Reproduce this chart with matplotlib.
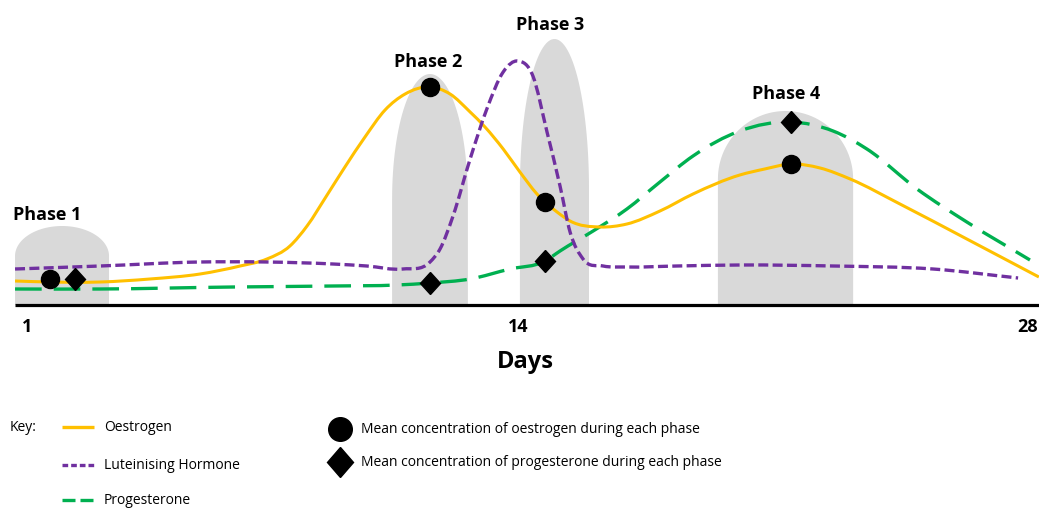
import numpy as np
import matplotlib
matplotlib.use('Agg')
import matplotlib.pyplot as plt
from matplotlib.lines import Line2D
from matplotlib.markers import MarkerStyle
from matplotlib.path import Path
from matplotlib.patches import PathPatch
from matplotlib.transforms import Affine2D, ScaledTranslation

plt.rcParams['font.family'] = ['Open Sans', 'DejaVu Sans']

# --- data (x in days, y in relative level)
oes_day = [0.62, 1.56, 2.91, 4.25, 5.60, 6.68, 7.40, 8.02, 8.48, 9.02, 9.50, 10.04,
           10.58, 11.12, 11.79, 12.33, 12.87, 13.27, 13.76, 14.21, 14.67,
           15.21, 15.56, 16.37, 17.09, 17.98, 18.87, 20.13, 20.80, 21.51, 22.29,
           23.10, 24.44, 26.24, 28.18]
oes_lvl = [24, 23, 23, 26, 31, 39, 46, 59, 79, 110, 138, 168,
           195, 211, 218, 211, 193, 178, 156, 133, 111,
           93, 84, 78, 81, 94, 111, 130, 136, 141, 137,
           126, 101, 66, 28]

lh_day = [0.62, 2.91, 5.60, 7.40, 9.18, 10.09, 11.06, 11.79, 12.06, 12.41, 12.87,
          13.32, 13.76, 14.16, 14.56, 14.94, 15.29, 15.56, 15.91, 16.45, 17.09,
          18.44, 20.13, 22.64, 25.33, 27.62]
lh_lvl = [36, 39, 43, 43, 41, 39, 36, 43, 56, 89, 146,
          196, 233, 244, 229, 173, 119, 73, 46, 39, 38,
          39, 40, 39, 36, 27]

pro_day = [0.62, 2.91, 6.49, 9.18, 10.90, 11.79, 12.87, 13.94, 14.89, 15.29, 16.18,
           17.09, 17.98, 18.87, 20.13, 21.51, 22.64, 23.55, 24.90, 26.24, 27.94]
pro_lvl = [16, 16, 18, 19, 20, 22, 26, 36, 44, 54, 74,
           96, 123, 149, 174, 183, 174, 156, 116, 83, 45]

# mean concentration per phase
phase_names = ['Phase 1', 'Phase 2', 'Phase 3', 'Phase 4']
mean_day = [1.56, 11.79, 14.89, 21.51]
mean_day_pro = [2.23, 11.79, 14.89, 21.51]
mean_oes = [26, 218, 103, 141]
mean_pro = [26, 22, 44, 183]

phase_start = [0.62, 10.77, 14.21, 19.54]
phase_end = [3.15, 12.81, 16.07, 23.18]
phase_top = [79, 231, 266, 194]

tick_days = [1, 14, 28]

# --- styling
ORANGE = '#FFC000'
PURPLE = '#7030A0'
GREEN = '#00B050'
GREY = '#D9D9D9'
arch_h = [30, 125, 150, 68]
label_pos = [(1.48, 86), (11.74, 239), (15.02, 276), (21.37, 207)]
tick_nudge = [-2, 6, -5]  # px


def smooth_path(x, y):
    # cubic bezier through the read points, tangents from neighbours
    x, y = np.asarray(x, float), np.asarray(y, float)
    m = np.gradient(y, x)
    verts = [(x[0], y[0])]
    codes = [Path.MOVETO]
    for i in range(len(x) - 1):
        dx = (x[i + 1] - x[i]) / 3
        verts += [(x[i] + dx, y[i] + dx * m[i]), (x[i + 1] - dx, y[i + 1] - dx * m[i + 1]), (x[i + 1], y[i + 1])]
        codes += [Path.CURVE4] * 3
    return Path(verts, codes)


fig = plt.figure(figsize=(10.39, 5.10), dpi=100)
ax = fig.add_axes([0, 0.4, 1, 0.6])
ax.set_xlim(8 / 37.15, 1047 / 37.15)
ax.set_ylim(0, 306)
for s in ax.spines.values():
    s.set_visible(False)
ax.set_yticks([])

# grey phase shapes: rectangle with an elliptical top
t = np.linspace(0, np.pi, 60)
for x0, x1, top, h in zip(phase_start, phase_end, phase_top, arch_h):
    xm, w = (x0 + x1) / 2, (x1 - x0) / 2
    xs = np.concatenate([[x1], xm + w * np.cos(t), [x0]])
    ys = np.concatenate([[0], top - h + h * np.sin(t), [0]])
    ax.fill(xs, ys, color=GREY, lw=0, zorder=1)

ax.add_patch(PathPatch(smooth_path(pro_day, pro_lvl), fill=False, edgecolor=GREEN, lw=2.4,
                       ls=(0, (8, 3.6)), capstyle='butt', zorder=3))
ax.add_patch(PathPatch(smooth_path(oes_day, oes_lvl), fill=False, edgecolor=ORANGE, lw=2.2,
                       capstyle='butt', joinstyle='round', zorder=4))
ax.add_patch(PathPatch(smooth_path(lh_day, lh_lvl), fill=False, edgecolor=PURPLE, lw=2.4,
                       ls=(0, (3, 1.3)), capstyle='butt', zorder=5))

dia = MarkerStyle('D', transform=Affine2D().scale(1, 1.15))
ax.plot(mean_day, mean_oes, 'o', color='black', ms=13, zorder=6, clip_on=False)
ax.plot(mean_day_pro, mean_pro, marker=dia, ls='none', color='black', ms=9.7, zorder=6, clip_on=False)

# baseline
ax.plot([0.62, 1047 / 37.15], [0, 0], color='black', lw=2.3, solid_capstyle='butt', clip_on=False, zorder=2)

for name, (lx, ly) in zip(phase_names, label_pos):
    ax.text(lx, ly, name, ha='center', va='baseline', fontsize=13, fontweight='bold')

ax.set_xticks(tick_days)
ax.set_xticklabels([str(d) for d in tick_days], fontsize=13, fontweight='bold')
ax.tick_params(axis='x', length=0, pad=9)
for lab, dx in zip(ax.get_xticklabels(), tick_nudge):
    lab.set_transform(lab.get_transform() + ScaledTranslation(dx / 100, 0, fig.dpi_scale_trans))

fig.text(525 / 1039, 1 - 368 / 510, 'Days', ha='center', va='baseline', fontsize=17, fontweight='bold')

# --- key
def fy(py):
    return 1 - py / 510

fig.text(10 / 1039, fy(428), 'Key:', va='center', fontsize=10)
key_rows = [('Oestrogen', ORANGE, None, 428), ('Luteinising Hormone', PURPLE, (1.7, 0.9), 466),
            ('Progesterone', GREEN, (3.9, 1.5), 501)]
for label, col, dsh, py in key_rows:
    ln = Line2D([62 / 1039, 94 / 1039], [fy(py), fy(py)], transform=fig.transFigure, color=col, lw=2.4,
                solid_capstyle='butt', dash_capstyle='butt')
    if dsh:
        ln.set_dashes(dsh)
    fig.add_artist(ln)
    fig.text(104 / 1039, fy(py), label, va='center', fontsize=10)

fig.add_artist(Line2D([340 / 1039], [fy(430)], transform=fig.transFigure, marker='o', color='black', ms=17))
fig.add_artist(Line2D([340 / 1039], [fy(463)], transform=fig.transFigure,
                      marker=MarkerStyle('D', transform=Affine2D().scale(1, 1.15)), color='black', ms=13))
fig.text(361 / 1039, fy(430), 'Mean concentration of oestrogen during each phase', va='center', fontsize=10)
fig.text(361 / 1039, fy(463), 'Mean concentration of progesterone during each phase', va='center', fontsize=10)

fig.savefig('out.png', dpi=100)
